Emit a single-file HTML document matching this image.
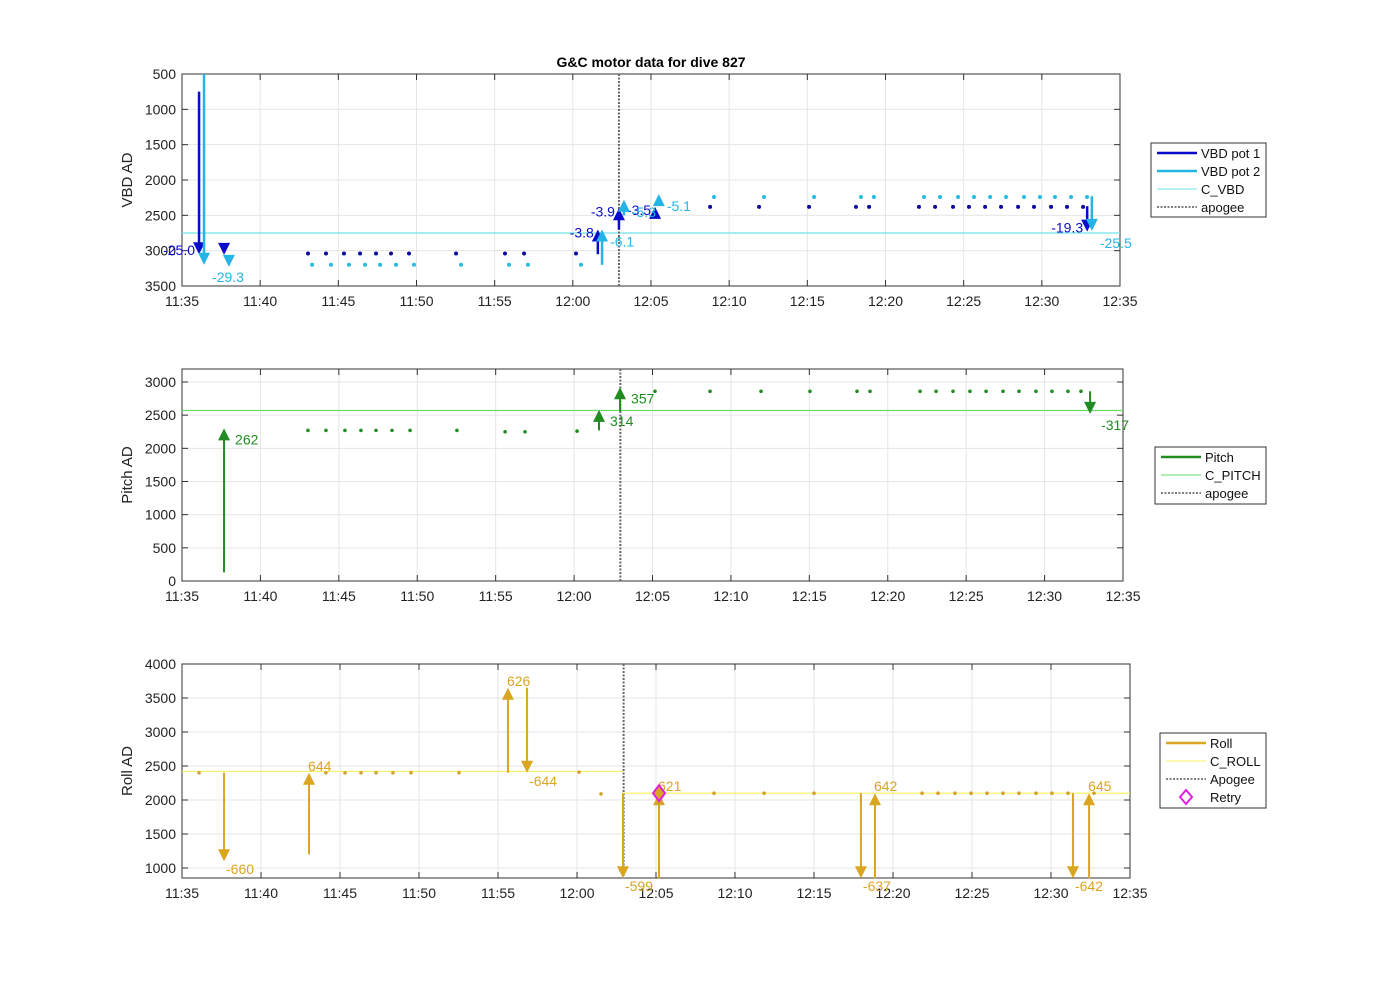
<!DOCTYPE html>
<html><head><meta charset="utf-8"><style>
html,body{margin:0;padding:0;background:#fff;}
svg{display:block;font-family:"Liberation Sans",Arial,sans-serif;}
</style></head><body>
<svg id="chart" width="1400" height="986" viewBox="0 0 1400 986" xmlns="http://www.w3.org/2000/svg">
<text x="651" y="67" font-size="14" font-weight="bold" text-anchor="middle">G&amp;C motor data for dive 827</text>
</svg>
<script>
// ---- data (times in minutes after 11:35) ----
const xTickLabels = ['11:35','11:40','11:45','11:50','11:55','12:00','12:05','12:10','12:15','12:20','12:25','12:30','12:35'];
const apogeeTime = 27.95;
// VBD panel
const vbdTicks = [500,1000,1500,2000,2500,3000,3500];
const pot1DotTimes = [8.06,9.21,10.36,11.39,12.41,13.37,14.52,17.53,20.66,21.88,25.2,33.78,36.91,40.11,43.11,43.95,47.14,48.17,49.32,50.34,51.37,52.39,53.48,54.5,55.59,56.61,57.64];
const pot1DotValues = [3040,3040,3040,3040,3040,3040,3040,3040,3040,3040,3040,2380,2380,2380,2380,2380,2380,2380,2380,2380,2380,2380,2380,2380,2380,2380,2380];
const pot2DotTimes = [8.32,9.53,10.68,11.71,12.67,13.69,14.84,17.85,20.92,22.13,25.52,34.03,37.23,40.43,43.43,44.26,47.46,48.49,49.64,50.66,51.69,52.71,53.86,54.88,55.84,56.87,57.89];
const pot2DotValues = [3200,3200,3200,3200,3200,3200,3200,3200,3200,3200,3200,2240,2240,2240,2240,2240,2240,2240,2240,2240,2240,2240,2240,2240,2240,2240,2240];
const pot1ArrowTimes = [1.09,2.69,26.6,27.95,30.26,57.9];
const pot1ArrowStart = [750,2960,3050,2700,2500,2370];
const pot1ArrowEnd = [3050,3060,2700,2400,2380,2730];
const pot1ArrowLabels = ['-25.0','','-3.8','-3.9','-3.5','-19.3'];
const pot2ArrowTimes = [1.41,3.0,26.87,28.27,30.5,58.2];
const pot2ArrowStart = [500,3130,3200,2500,2300,2230];
const pot2ArrowEnd = [3200,3230,2700,2280,2200,2720];
const pot2ArrowLabels = ['-29.3','','-6.1','-5.3','-5.1','-25.5'];
const cVbd = 2750;
// Pitch panel
const pitchTicks = [0,500,1000,1500,2000,2500,3000];
const pitchDotTimes = [8.03,9.18,10.39,11.41,12.37,13.39,14.54,17.53,20.6,21.87,25.19,30.16,33.67,36.92,40.04,43.04,43.87,47.06,48.08,49.16,50.24,51.27,52.35,53.37,54.45,55.47,56.49,57.32];
const pitchDotValues = [2270,2270,2270,2270,2270,2270,2270,2270,2250,2250,2260,2860,2860,2860,2860,2860,2860,2860,2860,2860,2860,2860,2860,2860,2860,2860,2860,2860];
const pitchArrowTimes = [2.68,26.59,27.93,57.9];
const pitchArrowStart = [130,2270,2560,2860];
const pitchArrowEnd = [2300,2580,2920,2520];
const pitchArrowLabels = ['262','314','357','-317'];
const cPitch = 2570;
// Roll panel
const rollTicks = [1000,1500,2000,2500,3000,3500,4000];
const rollDotTimes = [1.08,9.11,10.32,11.33,12.28,13.35,14.49,17.53,25.13,26.52,33.67,36.84,40.0,46.84,47.85,48.92,49.94,50.95,51.96,52.97,54.05,55.06,56.08,57.72];
const rollDotValues = [2400,2400,2400,2400,2400,2400,2400,2400,2410,2090,2100,2100,2100,2100,2100,2100,2100,2100,2100,2100,2100,2100,2100,2100];
const rollArrowTimes = [2.66,8.04,20.63,21.84,27.91,30.19,42.97,43.86,56.39,57.41];
const rollArrowStart = [2400,1200,2400,3650,2100,850,2100,850,2100,850];
const rollArrowEnd = [1100,2400,3650,2400,850,2100,850,2100,850,2100];
const rollArrowLabels = ['-660','644','626','-644','-599','621','-637','642','-642','645'];
const cRollBefore = 2420, cRollAfter = 2100;
const retryTimes = [30.19];
const retryValues = [2100];

const svg = document.getElementById('chart');
const NS = 'http://www.w3.org/2000/svg';
function mk(tag, attrs, parent){const e=document.createElementNS(NS,tag);for(const k in attrs)e.setAttribute(k,attrs[k]);(parent||svg).appendChild(e);return e;}

function makeAxes(p){
  const g = mk('g',{});
  
  
  const xs = t => p.x0 + (t/60)*(p.x1-p.x0);
  const ys = v => p.y0 + (v - p.vTop)/(p.vBot - p.vTop)*(p.y1-p.y0);
  mk('rect',{x:p.x0,y:p.y0,width:p.x1-p.x0,height:p.y1-p.y0,fill:'#fff',stroke:'none'},g);
  xTickLabels.forEach((lab,i)=>{
    const x = xs(i*5);
    mk('line',{x1:x,x2:x,y1:p.y0,y2:p.y1,stroke:'#e6e6e6','stroke-width':1},g);
    mk('line',{x1:x,x2:x,y1:p.y1,y2:p.y1-6,stroke:'#333'},g);
    mk('line',{x1:x,x2:x,y1:p.y0,y2:p.y0+6,stroke:'#333'},g);
    const t = mk('text',{x:x,y:p.y1+20,'font-size':14,'text-anchor':'middle',fill:'#222'},g);
    t.textContent = lab;
    
    
  });
  p.ticks.forEach(v=>{
    const y = ys(v);
    mk('line',{x1:p.x0,x2:p.x1,y1:y,y2:y,stroke:'#e6e6e6'},g);
    mk('line',{x1:p.x0,x2:p.x0+6,y1:y,y2:y,stroke:'#333'},g);
    mk('line',{x1:p.x1,x2:p.x1-6,y1:y,y2:y,stroke:'#333'},g);
    const t = mk('text',{x:p.x0-6,y:y+5,'font-size':14,'text-anchor':'end',fill:'#222'},g);
    t.textContent = v;
    
    
  });
  mk('rect',{x:p.x0,y:p.y0,width:p.x1-p.x0,height:p.y1-p.y0,fill:'none',stroke:'#333'},g);
  const yt = mk('text',{x:0,y:0,'font-size':15,'text-anchor':'middle',fill:'#222',transform:`translate(${p.x0-50},${(p.y0+p.y1)/2}) rotate(-90)`},g);
  yt.textContent = p.ylabel;
  
  
  return {xs,ys};
}
function hline(p,sc,v,t0,t1,color,name){
  const l = mk('line',{x1:sc.xs(t0),x2:sc.xs(t1),y1:sc.ys(v),y2:sc.ys(v),stroke:color,'stroke-width':1.2});
  
  
}
function apogee(p,sc){
  const l = mk('line',{x1:sc.xs(apogeeTime),x2:sc.xs(apogeeTime),y1:p.y0,y2:p.y1,stroke:'#666','stroke-width':2,'stroke-dasharray':'2,1.5'});
  
  
}
function dots(sc,times,vals,color,r){
  times.forEach((t,i)=>{
    const c = mk('circle',{cx:sc.xs(t),cy:sc.ys(vals[i]),r:r,fill:color});
    
    
  });
}
function arrows(sc,times,st,en,labels,color,w,mode){
  times.forEach((t,i)=>{
    const x=sc.xs(t), y0=sc.ys(st[i]), y1=sc.ys(en[i]);
    const dir = y1>y0?1:-1;
    const g = mk('g',{});
    
    
    mk('line',{x1:x,x2:x,y1:y0,y2:y1-dir*8,stroke:color,'stroke-width':w},g);
    mk('polygon',{points:`${x-6},${y1-dir*12} ${x+6},${y1-dir*12} ${x},${y1}`,fill:color},g);
    if(labels[i]){
      let tx,ty,anchor='start';
      if(mode==='left'){tx=x-4;ty=y1+(dir>0?1:8);anchor='end';}
      else if(mode==='right'){tx=x+8;ty=y1+17;}
      else if(mode==='pitch'){tx=x+11;ty=y1+16;}
      else {if(dir<0){tx=x-1;ty=y1-2;}else{tx=x+2;ty=y1+13;}}
      const tt = mk('text',{x:tx,y:ty,'font-size':14,fill:color,'text-anchor':anchor},g);
      tt.textContent = labels[i];
    }
  });
}
function legend(x,y,w,h,items,name){
  const g = mk('g',{});
  
  
  mk('rect',{x:x,y:y,width:w,height:h,fill:'#fff',stroke:'#333'},g);
  items.forEach((it,i)=>{
    const yy = y+10+i*18;
    const e = mk('g',{},g);
    
    
    if(it.diamond){
      mk('polygon',{points:`${x+26},${yy-7} ${x+32},${yy} ${x+26},${yy+7} ${x+20},${yy}`,fill:'none',stroke:'#e020e0','stroke-width':2},e);
    } else {
      mk('line',{x1:x+6,x2:x+46,y1:yy,y2:yy,stroke:it.c,'stroke-width':it.w,'stroke-dasharray':it.dash||'none'},e);
    }
    const t = mk('text',{x:x+50,y:yy+5,'font-size':13,fill:'#111'},e);
    t.textContent = it.t;
  });
}

// ---- Panel 1: VBD ----
const P1={name:'vbd',x0:182,x1:1120,y0:74,y1:286,vTop:500,vBot:3500,ticks:vbdTicks,ylabel:'VBD AD'};
const s1=makeAxes(P1);
hline(P1,s1,cVbd,0,60,'#70e4ea','c-vbd-line');
apogee(P1,s1);
dots(s1,pot1DotTimes,pot1DotValues,'#0a0aa0',2);
dots(s1,pot2DotTimes,pot2DotValues,'#22bde0',2);
arrows(s1,pot1ArrowTimes,pot1ArrowStart,pot1ArrowEnd,pot1ArrowLabels,'#0b0bcc',2.5,'left');
arrows(s1,pot2ArrowTimes,pot2ArrowStart,pot2ArrowEnd,pot2ArrowLabels,'#24b4e6',2.5,'right');
legend(1151,143,115,74,[{t:'VBD pot 1',c:'#0b0bcc',w:2.5},{t:'VBD pot 2',c:'#24b4e6',w:2.5},{t:'C_VBD',c:'#70e4ea',w:1},{t:'apogee',c:'#555',w:1.5,dash:'2,1.5'}],'vbd-legend');

// ---- Panel 2: Pitch ----
const P2={name:'pitch',x0:182,x1:1123,y0:369,y1:581,vTop:3196,vBot:0,ticks:pitchTicks,ylabel:'Pitch AD'};
const s2=makeAxes(P2);
hline(P2,s2,cPitch,0,60,'#66dd66','c-pitch-line');
apogee(P2,s2);
dots(s2,pitchDotTimes,pitchDotValues,'#228b22',1.8);
arrows(s2,pitchArrowTimes,pitchArrowStart,pitchArrowEnd,pitchArrowLabels,'#228b22',2,'pitch');
legend(1155,447,111,57,[{t:'Pitch',c:'#228b22',w:2.5},{t:'C_PITCH',c:'#66dd66',w:1},{t:'apogee',c:'#555',w:1.5,dash:'2,1.5'}],'pitch-legend');

// ---- Panel 3: Roll ----
const P3={name:'roll',x0:182,x1:1130,y0:664,y1:878,vTop:4000,vBot:853,ticks:rollTicks,ylabel:'Roll AD'};
const s3=makeAxes(P3);
hline(P3,s3,cRollBefore,0,apogeeTime,'#f8f060','c-roll-line-before');
hline(P3,s3,cRollAfter,apogeeTime,60,'#f8f060','c-roll-line-after');
apogee(P3,s3);
dots(s3,rollDotTimes,rollDotValues,'#d4a030',1.8);
arrows(s3,rollArrowTimes,rollArrowStart,rollArrowEnd,rollArrowLabels,'#daa520',2,'roll');
retryTimes.forEach((t,i)=>{
  const x=s3.xs(t), y=s3.ys(retryValues[i]);
  const d = mk('polygon',{points:`${x},${y-8} ${x+6},${y} ${x},${y+8} ${x-6},${y}`,fill:'#daa520',stroke:'#e020e0','stroke-width':2});
  
  
});
legend(1160,733,106,75,[{t:'Roll',c:'#daa520',w:2.5},{t:'C_ROLL',c:'#f8f060',w:1},{t:'Apogee',c:'#555',w:1.5,dash:'2,1.5'},{t:'Retry',diamond:true}],'roll-legend');
</script>
</body></html>
